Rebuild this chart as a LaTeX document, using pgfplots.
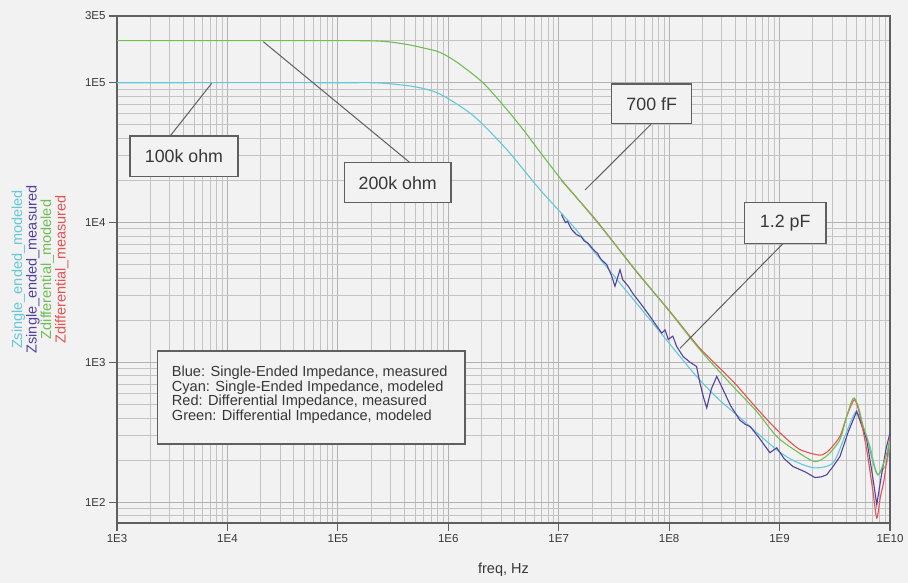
\documentclass[border=0pt]{standalone}
\usepackage{fontspec}
\setmainfont{Liberation Sans}
\usepackage{pgfplots}
\pgfplotsset{compat=1.18}

\definecolor{bg}{RGB}{242,242,242}
\definecolor{gridmaj}{RGB}{178,178,178}
\definecolor{gridmin}{RGB}{195,195,195}
\definecolor{axc}{RGB}{95,95,95}
\definecolor{txt}{RGB}{55,55,55}
\definecolor{zcyan}{RGB}{100,200,215}
\definecolor{zblue}{RGB}{82,66,160}
\definecolor{zgreen}{RGB}{112,190,85}
\definecolor{zred}{RGB}{232,82,82}

\begin{document}
\begin{tikzpicture}
\useasboundingbox (-117pt,-60pt) rectangle (791pt,523pt);
\fill[bg] (-117pt,-60pt) rectangle (791pt,523pt);

\begin{axis}[
    scale only axis,
    width=773pt, height=507pt,
    xmode=log, ymode=log,
    xmin=1e3, xmax=1e10,
    ymin=71, ymax=3e5,
    axis line style={draw=axc, line width=1.4pt},
    tick pos=left,
    tick align=outside,
    major tick length=8pt,
    minor tick length=0pt,
    major tick style={draw=axc, line width=1.2pt},
    xtick={1e3,1e4,1e5,1e6,1e7,1e8,1e9,1e10},
    xticklabels={1E3,1E4,1E5,1E6,1E7,1E8,1E9,1E10},
    ytick={1e2,1e3,1e4,1e5},
    yticklabels={1E2,1E3,1E4,1E5},
    extra y ticks={3e5},
    extra y tick labels={3E5},
    extra y tick style={grid=none},
    minor xtick={2e3,3e3,4e3,5e3,6e3,7e3,8e3,9e3,
                 2e4,3e4,4e4,5e4,6e4,7e4,8e4,9e4,
                 2e5,3e5,4e5,5e5,6e5,7e5,8e5,9e5,
                 2e6,3e6,4e6,5e6,6e6,7e6,8e6,9e6,
                 2e7,3e7,4e7,5e7,6e7,7e7,8e7,9e7,
                 2e8,3e8,4e8,5e8,6e8,7e8,8e8,9e8,
                 2e9,3e9,4e9,5e9,6e9,7e9,8e9,9e9},
    minor ytick={80,90,200,300,400,500,600,700,800,900,
                 2000,3000,4000,5000,6000,7000,8000,9000,
                 2e4,3e4,4e4,5e4,6e4,7e4,8e4,9e4,2e5},
    grid=both,
    major grid style={draw=gridmaj, line width=0.9pt},
    minor grid style={draw=gridmin, line width=0.9pt},
    ticklabel style={font=\fontsize{11.5}{12}\selectfont, text=txt},
    xlabel={freq, Hz},
    xlabel style={at={(axis description cs:0.5,0)}, anchor=center, yshift=-47pt,
                  font=\fontsize{14.5}{15}\selectfont, text=txt},
    ylabel={\textcolor{zcyan}{Zsingle\_ended\_modeled}\\
            \textcolor{zblue}{Zsingle\_ended\_measured}\\
            \textcolor{zgreen}{Zdifferential\_modeled}\\
            \textcolor{zred}{Zdifferential\_measured}},
    ylabel style={at={(axis description cs:-0.0996,0.5)}, anchor=center, align=center,
                  font=\fontsize{14.5}{14.5}\selectfont},
    every axis plot/.append style={line width=1.1pt, no markers},
]

% Zsingle_ended_modeled
\addplot[zcyan, smooth, tension=0.45] coordinates {
 (1e3,1e5) (1e5,1e5) (2.4e5,9.95e4) (5e5,9.35e4) (8.4e5,8.3e4) (1.69e6,5.8e4)
 (3.38e6,3.33e4) (6.76e6,1.72e4) (1.35e7,9.4e3) (3e7,4.37e3) (6e7,2.25e3)
 (1e8,1.37e3) (1.77e8,794) (2.8e8,545) (4.38e8,402) (9.42e8,237)
 (1.4e9,195) (2.09e9,176) (3.05e9,191) (3.91e9,298) (4.5e9,390) (4.99e9,446)
 (5.6e9,350) (6.59e9,251) (7.2e9,185) (7.74e9,157) (8.4e9,168) (9.34e9,190) (1e10,266)
};

% Zsingle_ended_measured
\addplot[zblue] coordinates {
 (1.06e7,1.14e4) (1.15e7,1.0e4) (1.2e7,1.02e4) (1.31e7,8.9e3) (1.45e7,8.2e3)
 (1.6e7,7.9e3) (1.7e7,7.4e3) (1.85e7,7.1e3) (2.06e7,6.4e3) (2.25e7,6.0e3)
 (2.4e7,5.5e3) (2.72e7,5.0e3) (3.0e7,4.2e3) (3.23e7,3.5e3) (3.59e7,4.6e3)
 (3.8e7,3.9e3) (4.27e7,3.5e3) (4.7e7,3.1e3) (5.2e7,2.8e3) (5.8e7,2.5e3)
 (6.72e7,2.13e3) (7.6e7,1.85e3) (8.57e7,1.62e3) (9.17e7,1.71e3) (9.82e7,1.46e3)
 (1.08e8,1.54e3) (1.17e8,1.30e3) (1.34e8,1.10e3) (1.55e8,1.0e3) (1.77e8,935)
 (1.9e8,713) (2.05e8,560) (2.19e8,472) (2.4e8,640) (2.7e8,794) (3.08e8,638)
 (3.6e8,490) (4.38e8,385) (4.9e8,360) (5.4e8,348) (6.5e8,290) (7.3e8,255)
 (8.18e8,226) (9.42e8,245) (1.1e9,205) (1.32e9,180) (1.7e9,165) (2.09e9,150)
 (2.4e9,152) (2.67e9,157) (3.05e9,180) (3.52e9,212) (4.2e9,320) (4.99e9,446)
 (5.5e9,360) (6.15e9,280) (6.9e9,160) (7.59e9,96) (8.3e9,150) (9.2e9,240) (1e10,314)
};

% Zdifferential_measured
\addplot[zred, smooth, tension=0.4] coordinates {
 (1.06e7,2.0e4) (1.35e7,1.61e4) (2.27e7,1.0e4) (5e7,4.5e3) (1e8,2.35e3)
 (1.9e8,1.26e3) (3.79e8,731) (6.2e8,470) (9.42e8,330) (1.5e9,240)
 (2.32e9,217) (2.8e9,235) (3.52e9,295) (4.05e9,410) (4.75e9,541)
 (5.3e9,430) (6.15e9,237) (7.0e9,120) (7.59e9,77) (8.2e9,110)
 (8.83e9,144) (9.5e9,220) (1e10,295)
};

% Zdifferential_modeled
\addplot[zgreen, smooth, tension=0.45] coordinates {
 (1e3,2e5) (1e5,2e5) (2.5e5,1.98e5) (4.2e5,1.88e5) (6e5,1.77e5) (8.4e5,1.65e5)
 (1.2e6,1.4e5) (2.06e6,1e5) (3.41e6,6.4e4) (5e6,4.4e4) (6.76e6,3.2e4)
 (1.06e7,2.02e4) (1.35e7,1.61e4) (2.27e7,9.9e3) (5e7,4.54e3) (1e8,2.33e3)
 (1.9e8,1.23e3) (3.79e8,673) (6.2e8,446) (9.42e8,295) (1.43e9,231)
 (2.09e9,195) (2.74e9,218) (3.52e9,280) (4.05e9,410) (4.49e9,526)
 (4.75e9,556) (5.16e9,484) (5.73e9,348) (6.15e9,295) (7.06e9,189)
 (7.74e9,157) (8.42e9,175) (9.34e9,224) (1e10,275)
};

\end{axis}

\tikzset{
  box/.style={draw=axc, line width=1.2pt, fill=bg, inner sep=0pt,
              font=\fontsize{17.8}{18}\selectfont, text=txt},
  lead/.style={draw=axc, line width=1pt},
}

% leader lines
\draw[lead] (53.7pt,387.7pt) -- (94.7pt,439.7pt);
\draw[lead] (293pt,360.3pt) -- (146.3pt,481.3pt);
\draw[lead] (534pt,398.7pt) -- (468pt,333pt);
\draw[lead] (666.3pt,279.7pt) -- (563pt,174.7pt);

% labels
\node[box, minimum width=108pt, minimum height=40.7pt] at (67pt,366.7pt) {100k ohm};
\node[box, minimum width=106.7pt, minimum height=40pt] at (280.7pt,340.3pt) {200k ohm};
\node[box, minimum width=80pt, minimum height=39.3pt] at (534.7pt,419.3pt) {700 fF};
\node[box, minimum width=81.7pt, minimum height=40.6pt] at (668.2pt,300pt) {1.2 pF};

% description box
\draw[draw=axc, line width=1.2pt, fill=bg] (40.3pt,79pt) rectangle (348pt,172pt);
\node[anchor=north west, align=left, inner sep=0pt, text=txt,
      font=\fontsize{14.6}{14.6}\selectfont] at (54.7pt,157pt)
  {Blue: Single-Ended Impedance, measured\\
   Cyan: Single-Ended Impedance, modeled\\
   Red: Differential Impedance, measured\\
   Green: Differential Impedance, modeled};
\end{tikzpicture}
\end{document}
